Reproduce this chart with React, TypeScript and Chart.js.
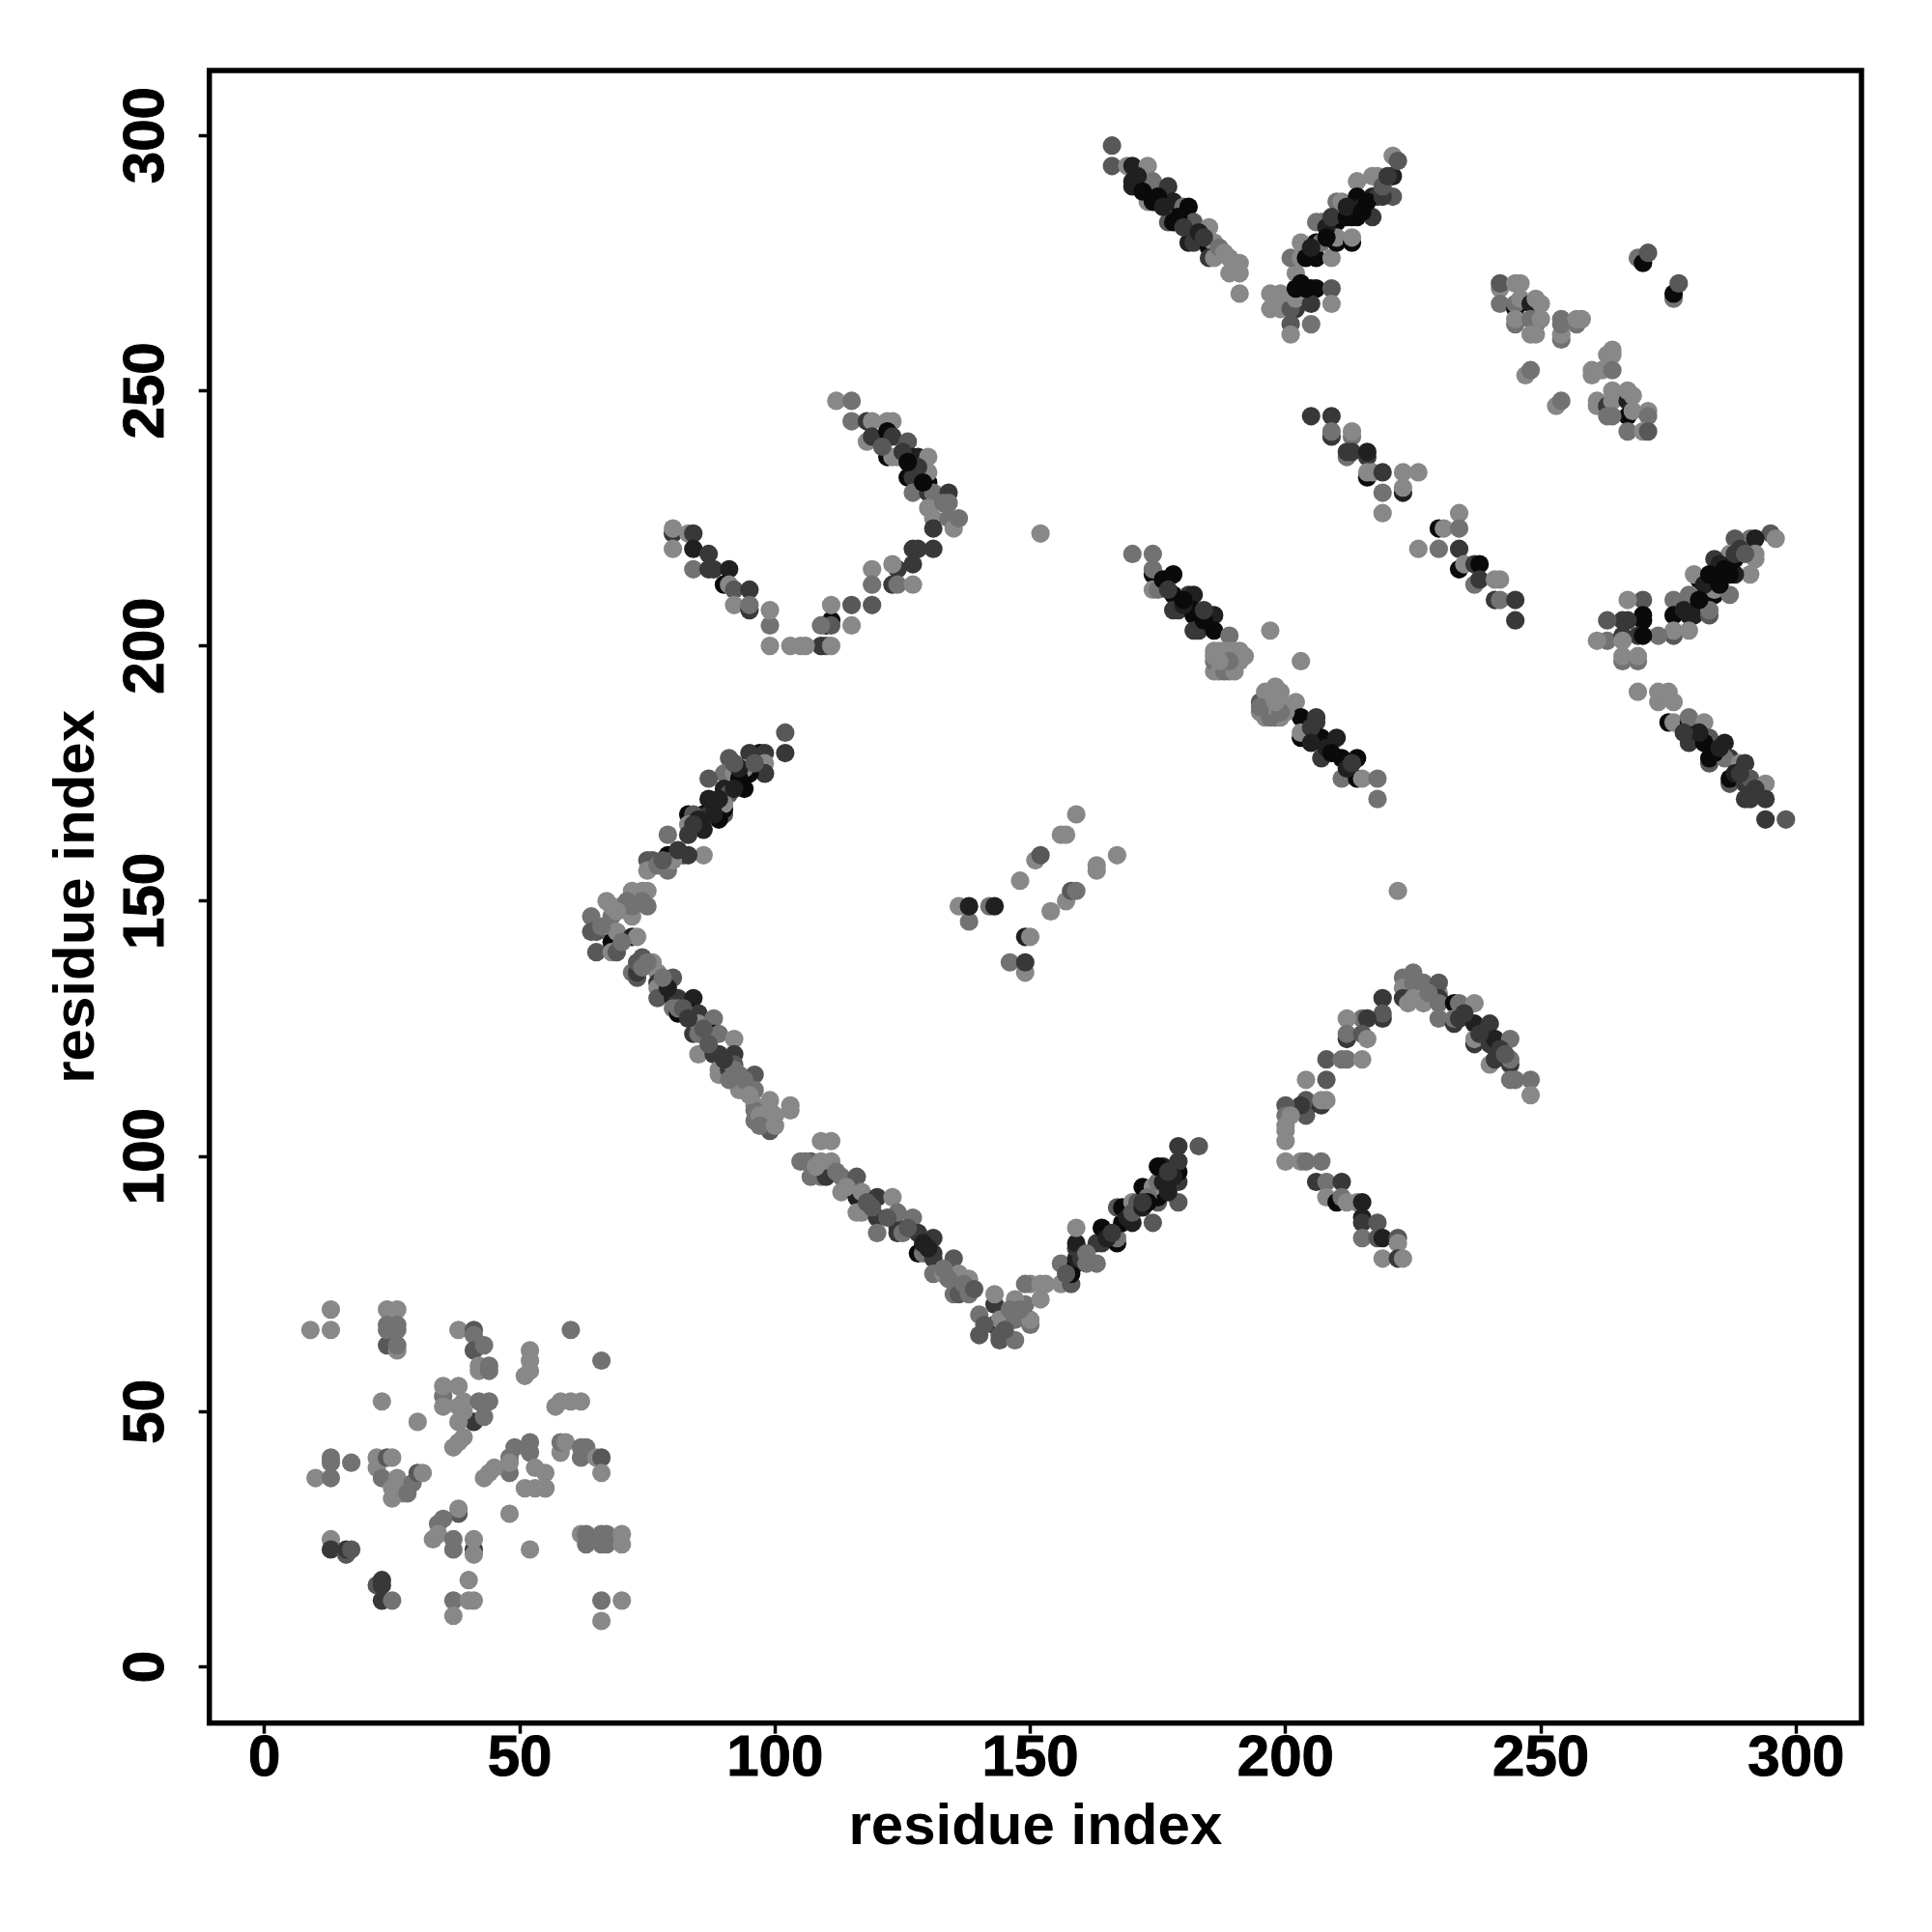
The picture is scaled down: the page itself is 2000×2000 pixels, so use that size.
import React, { useEffect, useRef } from "react";
import { Chart, registerables } from "chart.js";

Chart.register(...registerables);

type P = [number, number, number]; // residue i, residue j, contact strength tier

const tickValues = [0, 50, 100, 150, 200, 250, 300];
const axisLabel = "residue index";
const strengthGray = [136, 114, 88, 56, 32, 10];

const fillIn: P[] = [
  [187,199,0],[188,199,0],[187,196,1],[187,195,0],[188,195,1],[190,195,0],[190,199,0],[191,197,0],[189,197,1],[187,197,0],[186,198,0],
  [196,189,2],[196,187,0],[197,186,1],[197,190,0],[198,190,0],[198,188,0],[196,191,0],[197,191,0],[195,188,1],[200,188,0],[200,187,0],[199,187,1],[198,189,0],
  [93,174,5],[92,172,4],[93,176,4],[96,177,2],[88,169,4],[89,166,5],[85,166,4],[84,165,3],[88,167,4],[89,170,4],[92,177,2],[81,160,3],[77,157,1],[78,158,2],[74,152,0],[74,150,1],[71,150,1],[69,148,0],[66,145,1],[70,142,1],[74,139,2],[74,137,1],[75,138,1],
  [79,133,4],[78,135,1],[82,129,2],[83,127,3],[86,125,2],[87,122,2],[90,119,3],[91,115,1],[94,115,1],[95,112,0],[97,108,0],[97,106,1],[100,108,0],[100,106,0],[108,98,0],[112,97,1],[114,94,0],[118,91,2],[119,90,2],[122,88,2],[126,86,2],[129,83,4],[130,82,4],[133,78,1],[134,76,1],[137,75,1],[139,74,2],[141,67,2],[145,66,2],[146,70,1],[148,70,1],
  [157,77,2],[160,80,3],[161,81,1],[165,84,4],[166,85,3],[169,88,4],[170,89,2],[172,90,4],[173,92,1],[177,93,4],[176,95,4],[178,96,4],[177,97,3],[173,91,5],[172,91,3],[161,79,1],
  [171,292,4],[172,289,5],[175,288,5],[176,286,4],[179,284,5],[180,282,3],[183,281,4],[184,280,3],[187,278,1],[188,277,0],[190,275,0],[204,270,5],[203,271,5],[204,276,5],[205,278,4],[208,282,4],[208,280,5],[209,284,3],[212,284,5],[212,286,4],[215,286,4],[216,287,5],[215,285,5],[219,288,3],[219,290,2],[220,292,3],
  [285,216,4],[286,215,5],[282,212,4],[283,214,5],[281,209,5],[278,207,4],[289,219,3],[290,218,2],[285,212,5],[281,183,4],[284,179,5],[285,180,4],[288,175,4],[289,175,3],[292,172,3],[278,183,3],
  [176,213,5],[177,211,3],[180,208,4],[184,205,5],[180,209,5],[184,207,3],[205,184,3],[208,180,4],[209,179,5],[212,176,4],[213,177,3],[205,181,4],
  [125,238,3],[128,235,3],[129,232,5],[133,228,1],[126,236,5],[121,239,2],
  [228,132,1],[235,128,3],[238,124,3],[242,121,3],[243,120,2],
];

const clusterSW: P[] = [
  [13,70,0],[9,66,0],[13,66,0],[24,70,0],[26,70,0],[24,63,2],[24,66,1],[26,66,1],[24,67,1],[26,67,1],[26,62,0],[26,63,1],
  [38,66,0],[41,66,2],[41,65,1],[41,62,2],[43,63,1],[42,59,0],[42,58,0],[44,59,1],[44,58,1],
  [52,62,0],[52,60,0],[52,58,0],[51,57,0],[60,66,1],[66,60,1],[23,52,0],[30,48,0],
  [35,53,1],[35,55,0],[35,51,0],[38,55,0],[39,52,0],[38,51,0],[44,52,1],[42,52,1],[41,48,3],[43,49,1],[38,48,0],[39,50,0],
  [39,45,0],[38,44,0],[37,43,0],[57,51,0],[58,52,0],[60,52,0],[62,52,0],
  [58,42,0],[58,44,1],[59,44,0],[62,41,1],[62,43,1],[63,43,1],[65,41,0],[66,41,2],[66,38,0],
  [52,44,1],[52,42,1],[49,43,1],[48,41,1],[48,38,1],[48,40,0],[45,39,0],[44,38,0],[43,37,0],[53,39,0],[55,38,0],[51,35,0],[53,35,0],[55,35,1],[55,35,0],
  [13,41,1],[13,40,1],[17,40,1],[10,37,0],[13,37,1],
  [22,41,0],[22,39,0],[24,41,2],[25,41,0],[23,37,1],[26,37,0],[27,34,0],[25,33,0],[25,35,0],[28,34,1],[29,36,1],[30,38,2],[31,38,0],
  [38,30,2],[38,31,0],[34,28,1],[35,29,1],[33,25,0],[34,26,0],[37,23,1],[37,25,1],[41,23,3],[41,25,0],[41,22,0],[48,30,0],[52,23,0],
  [62,26,0],[63,26,1],[63,24,1],[66,26,1],[67,26,1],[66,24,1],[67,24,1],[70,24,0],[70,26,0],
  [13,25,0],[13,23,3],[16,22,2],[16,23,3],[17,23,2],
  [22,16,2],[23,17,3],[23,16,3],[23,13,3],[25,13,1],[40,17,0],[37,13,1],[40,13,0],[41,13,0],[37,10,0],[66,13,1],[70,13,0],[66,9,0],
];

const armNW: P[] = [
  [102,183,2],[102,179,3],[97,179,5],[98,179,3],[98,177,0],[98,175,5],[98,175,3],[95,179,3],[95,177,3],[91,178,2],[95,175,5],[94,176,0],[94,172,5],[91,175,5],[90,175,1],
  [92,175,0],[87,174,2],[90,172,4],[91,171,2],[90,167,2],[90,168,5],[90,169,0],[87,170,4],[86,167,5],[87,167,3],[86,164,4],[83,167,5],[84,167,2],[83,165,0],[83,163,3],[79,163,1],
  [86,159,0],[82,159,2],[83,159,3],[79,159,5],[79,156,1],[80,158,0],[75,158,2],[76,158,2],[75,156,0],[75,152,0],[75,149,1],[72,152,0],[72,147,0],[72,149,1],[70,149,1],[67,150,0],[68,147,1],[68,149,0],
  [64,147,1],[64,144,2],[65,144,2],[65,140,2],[68,142,5],[69,144,0],[68,140,0],[69,140,2],[72,143,4],[73,143,0],
];

const armSW: P[] = [
  [72,136,1],[73,135,2],[73,136,3],[73,138,2],[76,138,0],[77,136,0],[77,134,3],[77,133,0],[77,131,2],[80,135,2],[80,131,4],[81,131,3],[84,131,4],[80,129,1],[81,128,5],[81,129,1],
  [84,128,5],[84,124,3],[85,128,3],[85,126,0],[85,124,1],[88,127,1],[88,124,5],[89,124,1],[92,123,0],[85,120,0],[88,120,3],[89,120,3],[92,120,3],[92,118,2],[89,117,0],[89,116,0],[91,117,3],[92,117,1],[93,116,1],[96,116,2],
  [93,113,0],[96,113,1],[96,110,0],[96,109,1],[96,107,1],[99,105,2],[99,107,2],[99,109,0],[99,111,0],[103,110,0],[103,109,0],[109,103,0],[111,103,0],
  [105,99,1],[107,99,2],[106,99,1],[107,96,1],[109,96,1],[110,96,3],[109,99,0],[111,99,0],[113,96,1],[116,96,2],[113,93,0],[116,92,4],[117,93,0],[116,89,0],[117,89,0],
  [120,92,3],[123,92,0],[120,88,3],[120,85,1],[124,86,3],[124,85,3],[125,85,1],[124,89,1],[127,88,1],[128,81,5],[128,85,3],[129,81,1],[131,84,3],[131,81,3],[131,80,3],
  [135,80,2],[131,77,1],[133,77,0],[135,77,2],[136,77,0],[138,76,0],[135,73,1],[136,73,2],[138,73,1],
  [143,71,3],[143,73,0],[140,69,1],[140,65,2],[143,67,5],[144,68,0],[144,65,2],[144,64,2],[147,64,1],[147,68,1],[150,67,1],[150,68,0],[149,71,1],[147,72,0],[152,72,0],
];

const armSE: P[] = [
  [150,75,0],[149,75,1],[152,75,0],[153,75,0],[156,75,0],[158,75,2],[156,79,1],[158,77,5],[159,79,5],[159,80,4],[159,82,3],[159,83,4],[159,86,0],
  [163,83,3],[164,83,3],[163,79,1],[164,86,5],[167,83,5],[167,84,1],[168,87,5],[167,90,2],[168,90,5],[170,87,4],[170,91,0],[171,91,2],[172,94,5],[174,87,2],[175,91,2],[175,92,5],[174,94,0],[175,95,1],[176,98,4],[175,98,5],[179,91,2],
  [179,95,3],[179,97,5],[179,99,3],[179,102,3],[183,102,2],
];

const uShape: P[] = [
  [112,248,0],[115,248,1],[115,244,1],[118,244,3],[119,244,0],[122,244,0],[123,244,0],[118,240,0],[119,241,3],[122,242,5],[123,241,3],[126,240,2],[122,237,5],[123,237,0],[124,237,0],[127,237,4],[128,237,4],[130,237,0],
  [126,233,5],[127,233,3],[130,232,5],[130,234,0],[127,230,1],[130,230,3],[131,230,1],[134,230,3],[134,228,1],[130,227,0],[131,225,0],[131,223,3],[134,225,1],[135,223,0],[136,225,1],
  [127,219,3],[128,219,3],[131,219,3],[127,216,3],[124,215,3],[123,216,0],[123,212,3],[124,212,1],[127,212,0],[119,215,0],[119,212,1],[119,208,2],[115,208,2],[115,204,0],
  [111,205,5],[111,208,0],[110,204,5],[111,204,2],[109,204,1],[110,200,2],[109,200,3],[111,200,0],[106,200,0],[105,200,0],[103,200,0],[99,200,0],[99,204,1],[99,207,0],
  [80,222,3],[80,223,0],[80,219,0],[83,222,0],[84,222,3],[84,219,4],[84,215,1],[87,218,3],[87,215,3],[88,215,3],[91,215,4],[90,212,5],[91,212,0],[92,211,2],[92,208,0],[95,211,3],[95,207,3],[95,208,1],
];

const vTop: P[] = [
  [166,298,2],[166,294,2],[169,294,0],[170,294,4],[173,294,0],[170,290,4],[170,291,4],[174,290,3],[174,291,1],[177,290,3],[173,287,0],[174,287,5],[178,287,4],[180,286,1],[181,286,5],[177,283,2],[178,283,5],[181,283,5],[182,283,2],
  [181,279,4],[182,279,3],[185,282,0],[185,278,5],[186,279,0],[185,276,3],[186,276,0],[189,276,0],[191,275,0],[189,273,0],[191,273,0],[191,269,0],
  [197,269,0],[197,266,0],[199,269,0],[199,266,0],[202,266,3],[201,266,2],[202,268,0],[202,270,5],[205,270,5],[206,270,5],[209,270,2],[209,267,0],[205,267,3],[205,263,1],[201,263,2],[201,261,0],
  [202,273,0],[201,276,1],[203,276,0],[203,279,0],[206,279,5],[206,276,5],[209,276,0],[207,279,1],[206,283,1],[207,283,1],[210,283,5],[210,287,1],[211,287,0],[210,279,5],[210,280,0],[213,279,5],[213,280,0],
  [214,291,0],[214,288,5],[213,284,5],[214,284,5],[217,284,3],[217,288,4],[218,288,3],[217,292,0],[218,292,0],[221,292,4],[221,288,2],[221,296,0],[222,295,2],
];

const diagMid: P[] = [
  [170,218,1],[174,218,1],[174,214,5],[174,215,1],[174,211,0],[175,211,1],[178,214,5],[178,210,5],[178,207,3],[179,207,3],[181,210,3],[182,210,4],[182,206,5],[182,207,5],[185,206,4],[186,206,4],[182,203,3],[183,203,3],[186,203,5],[189,202,1],
  [186,199,0],[186,195,0],[186,197,1],[188,197,0],[189,195,0],[190,197,1],[189,199,0],[191,199,0],[192,198,0],[197,203,0],[203,197,0],
  [195,189,2],[195,187,0],[196,186,0],[198,186,1],[199,186,0],[197,188,0],[199,189,0],[198,192,0],[199,191,0],[202,189,0],[203,186,5],[206,186,3],[206,185,3],[203,182,5],[203,183,0],[206,182,5],[207,182,5],[210,182,4],[207,178,3],[211,178,5],[214,178,5],[211,174,1],[214,174,5],[215,174,0],[218,174,1],[218,170,1],
];

const diagUpper: P[] = [
  [205,245,3],[209,245,3],[209,241,3],[209,242,1],[213,241,1],[213,242,0],[212,237,1],[212,238,3],[213,238,3],[216,237,3],[216,238,4],[216,233,5],[216,234,0],[217,234,0],[219,234,3],[223,234,0],[226,234,0],[219,230,1],[223,230,4],[223,231,0],[219,226,0],
  [234,226,0],[230,223,5],[231,223,0],[234,223,1],[226,219,0],[230,219,1],[234,219,3],[234,215,5],[235,216,0],[237,216,3],[238,216,5],[237,212,1],[238,213,3],[241,213,0],[242,213,0],[241,209,3],[242,209,1],[245,209,3],[245,205,3],
];

const hookE: P[] = [
  [225,136,1],[223,135,1],[223,133,0],[225,134,1],[227,134,1],[230,132,0],[230,134,2],[223,131,3],[224,130,0],[225,131,0],[227,130,0],[230,131,3],[230,130,1],[233,130,5],[234,130,1],[237,130,0],[230,127,1],[233,126,3],[233,127,1],[234,127,3],[237,126,4],[240,126,3],
  [237,122,3],[237,123,0],[240,122,3],[241,123,4],[244,123,1],[240,118,0],[241,119,3],[244,118,3],[244,119,1],[244,115,1],[245,115,1],[248,115,1],[248,112,0],
  [219,131,3],[219,127,3],[219,128,2],[215,127,1],[216,127,3],[212,127,0],[212,123,3],[212,124,1],[215,124,2],[216,123,0],[208,119,2],[211,119,1],[212,119,1],[215,119,0],[204,115,0],[208,115,2],
  [204,109,5],[204,108,2],[204,111,2],[203,110,3],[207,110,3],[208,111,0],[207,111,0],[200,110,2],[200,108,1],[201,108,0],[200,106,0],[200,105,0],[200,103,0],[200,99,0],[203,99,0],[204,99,1],[207,99,1],
  [206,95,3],[208,95,1],[211,95,3],[208,92,0],[210,91,5],[211,92,1],[212,91,0],[214,91,0],[215,91,4],[215,88,4],[215,87,3],[218,87,2],[215,84,1],[218,84,2],[219,84,4],[222,84,2],[222,83,0],[219,80,0],[222,80,3],[223,80,0],
];

const patchNE: P[] = [
  [269,276,1],[270,275,5],[271,277,2],[276,268,1],[276,269,5],[277,271,2],
  [242,270,0],[242,271,2],[242,267,1],[245,271,0],[246,271,0],[245,266,5],[245,267,1],[246,268,0],[248,267,4],[249,268,0],[250,267,0],[249,263,3],[245,263,1],[245,264,0],[248,264,1],[250,264,0],[248,261,0],[249,261,0],
  [254,260,1],[254,261,0],[254,263,1],[254,264,1],[257,263,1],[257,264,0],[258,264,0],[247,253,0],[248,254,1],[253,247,0],[254,248,1],
  [264,258,0],[263,257,0],[264,257,0],[260,254,0],[260,253,0],[262,254,0],[264,254,1],[261,248,0],[261,247,0],[263,247,3],[264,250,0],[264,248,0],[267,248,4],[267,250,0],[268,249,0],[267,245,5],[268,246,0],[264,245,1],[263,245,1],[271,246,0],[271,245,1],[267,242,1],[270,242,0],[271,242,2],
];

const vEast: P[] = [
  [295,222,2],[296,221,0],[291,221,1],[292,221,4],[288,221,2],[292,218,0],[292,217,0],[291,214,0],[288,214,4],[287,214,5],[287,218,0],[288,217,5],[288,218,3],[284,217,3],[284,214,5],[284,213,5],[281,213,5],[280,214,0],[284,210,5],[284,211,0],[287,210,1],
  [280,209,5],[279,210,1],[279,206,4],[280,206,4],[283,206,2],[283,207,1],[276,209,1],[276,206,5],[276,202,2],[276,203,0],[279,203,0],[273,202,1],
  [270,209,2],[267,209,0],[270,206,5],[270,205,5],[269,202,3],[270,202,5],[267,205,3],[266,205,3],[263,205,2],[263,201,1],[261,201,0],[266,202,3],[266,201,0],[266,197,1],[266,198,0],[269,197,1],[269,198,0],
  [269,191,0],[273,189,0],[273,191,0],[275,191,0],[276,189,0],[275,185,5],[276,185,0],[279,185,5],[279,186,1],[282,185,0],[279,181,3],[283,182,2],[282,181,5],[283,177,2],[283,178,5],[286,181,4],[287,178,3],[286,178,1],[289,177,0],[290,177,3],
  [287,173,2],[287,174,5],[290,173,3],[291,174,2],[294,173,0],[290,170,3],[291,170,3],[294,170,3],[294,166,3],[298,166,2],
];

const centerBits: P[] = [
  [136,149,0],[138,146,1],[138,149,4],[142,149,1],[143,149,4],[148,154,0],[151,158,0],[152,159,2],[156,163,0],[157,163,0],[159,167,0],
  [149,143,4],[150,143,0],[146,138,1],[149,136,0],[149,138,3],[154,148,0],[157,150,0],[158,152,2],[159,152,1],[167,159,0],[163,156,0],[163,157,0],
  [152,222,0],[222,152,0],
];

const groups = [fillIn, clusterSW, armNW, armSW, armSE, uShape, vTop, diagMid, diagUpper, hookE, patchNE, vEast, centerBits];

const frame = {
  id: "frame",
  afterDraw(c: any) {
    const { left, right, top, bottom } = c.chartArea;
    const g = c.ctx;
    g.save();
    g.strokeStyle = "#000";
    g.lineWidth = 5.5;
    g.lineJoin = "miter";
    g.strokeRect(left, top, right - left, bottom - top);
    g.restore();
  },
};

const fontBold = { family: "'Liberation Sans'", weight: "bold" as const, size: 60 };

export default function App() {
  const ref = useRef<HTMLCanvasElement>(null);
  useEffect(() => {
    const setTicks = (s: any) => {
      s.ticks = tickValues.map((value) => ({ value }));
    };
    const chart = new Chart(ref.current as HTMLCanvasElement, {
      type: "scatter",
      data: {
        datasets: groups.map((g) => ({
          data: g.map((p) => ({ x: p[0], y: p[1] })),
          pointRadius: 9.6,
          pointBorderWidth: 0,
          pointBackgroundColor: g.map((p) => {
            const v = strengthGray[p[2]];
            return `rgb(${v},${v},${v})`;
          }),
        })),
      },
      options: {
        animation: false,
        responsive: false,
        layout: { padding: { left: 0, right: 73, top: 73, bottom: 0 } },
        plugins: { legend: { display: false }, tooltip: { enabled: false } },
        scales: {
          x: {
            type: "linear",
            min: -10.8,
            max: 312.8,
            afterBuildTicks: setTicks,
            afterFit: (s: any) => { s.height = 216.3; },
            grid: { display: true, drawOnChartArea: false, drawTicks: true, tickLength: 11, tickWidth: 3.5, tickColor: "#000" },
            border: { display: false },
            ticks: { autoSkip: false, maxRotation: 0, minRotation: 0, color: "#000", font: fontBold, padding: -9, textStrokeColor: "#000", textStrokeWidth: 1, callback: (v: any) => String(v) },
            title: { display: true, text: axisLabel, color: "#000", font: fontBold, padding: { top: 0, bottom: 72 } },
          },
          y: {
            type: "linear",
            min: -11,
            max: 312.7,
            afterBuildTicks: setTicks,
            afterFit: (s: any) => { s.width = 216.7; },
            grid: { display: true, drawOnChartArea: false, drawTicks: true, tickLength: 11, tickWidth: 3.5, tickColor: "#000" },
            border: { display: false },
            ticks: { autoSkip: false, minRotation: 90, maxRotation: 90, crossAlign: "center", color: "#000", font: fontBold, padding: 3, textStrokeColor: "#000", textStrokeWidth: 1, callback: (v: any) => String(v) },
            title: { display: true, text: axisLabel, color: "#000", font: fontBold, padding: { top: 44, bottom: 0 } },
          },
        },
      },
      plugins: [frame],
    } as any);
    return () => chart.destroy();
  }, []);
  return (
    <canvas
      ref={ref}
      width={2000}
      height={2000}
      style={{ position: "absolute", left: 0, top: 0, width: 2000, height: 2000, display: "block", background: "#fff" }}
    />
  );
}
